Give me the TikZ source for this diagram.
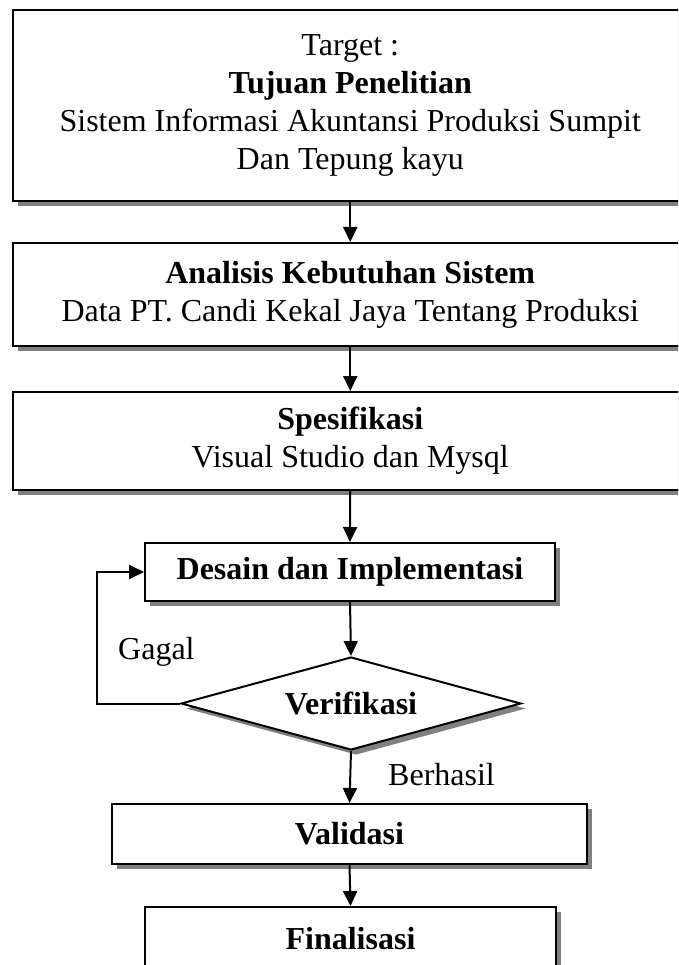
\documentclass[tikz,border=0pt]{standalone}
\usepackage{fontspec}
\setmainfont{Liberation Serif}
\usetikzlibrary{shapes.geometric,arrows.meta,shadows}
\begin{document}
\begin{tikzpicture}[x=1pt,y=-1pt,
  txt/.style={font=\fontsize{32}{38}\selectfont},
  box/.style={draw, line width=2pt, fill=white, inner sep=0pt, align=center, txt,
    general shadow={fill=black!50, shadow xshift=5pt, shadow yshift=-5pt}},
  decision/.style={diamond, draw, line width=2pt, fill=white, inner sep=0pt, aspect=3.66, txt,
    general shadow={fill=black!50, shadow xshift=5pt, shadow yshift=-5pt}},
  arr/.style={line width=2pt, -{Triangle[length=15pt,width=14pt]}},
  lbl/.style={txt, inner sep=0pt, anchor=west}]
\useasboundingbox (0,0) rectangle (678,965);
\clip (0,0) rectangle (678,965);

\node[box, minimum width=675.5pt, minimum height=191pt] (b1) at (350.25,105.5)
  {Target :\\\textbf{Tujuan Penelitian}\\Sistem Informasi Akuntansi Produksi Sumpit\\Dan Tepung kayu};
\node[box, minimum width=675.5pt, minimum height=103pt] (b2) at (350.25,294.5)
  {\textbf{Analisis Kebutuhan Sistem}\\Data PT. Candi Kekal Jaya Tentang Produksi};
\node[box, minimum width=675.5pt, minimum height=98pt] (b3) at (350.25,441)
  {\textbf{Spesifikasi}\\Visual Studio dan Mysql};
\node[box, minimum width=410pt, minimum height=58pt] (b4) at (350,572)
  {\textbf{Desain dan Implementasi}};
\node[decision, minimum width=340pt, minimum height=93pt] (d) at (351,703.5)
  {\textbf{Verifikasi}};
\node[box, minimum width=475pt, minimum height=60pt] (b5) at (349.5,834)
  {\textbf{Validasi}};
\node[box, minimum width=411pt, minimum height=63pt] (b6) at (350.5,938.5)
  {\textbf{Finalisasi}};

\coordinate (lp) at (97,572);
\draw[arr] (b1.south) -- (b2.north);
\draw[arr] (b2.south) -- (b3.north);
\draw[arr] (b3.south) -- (b4.north);
\draw[arr] (b4.south) -- (d.north);
\draw[arr] (d.west) -| (lp) -- (b4.west);
\draw[arr] (d.south) -- (b5.north);
\draw[arr] (b5.south) -- (b6.north);

\node[lbl] (gagal) at (118,652) {Gagal};
\node[lbl] (berhasil) at (388,775) {Berhasil};
\end{tikzpicture}
\end{document}
